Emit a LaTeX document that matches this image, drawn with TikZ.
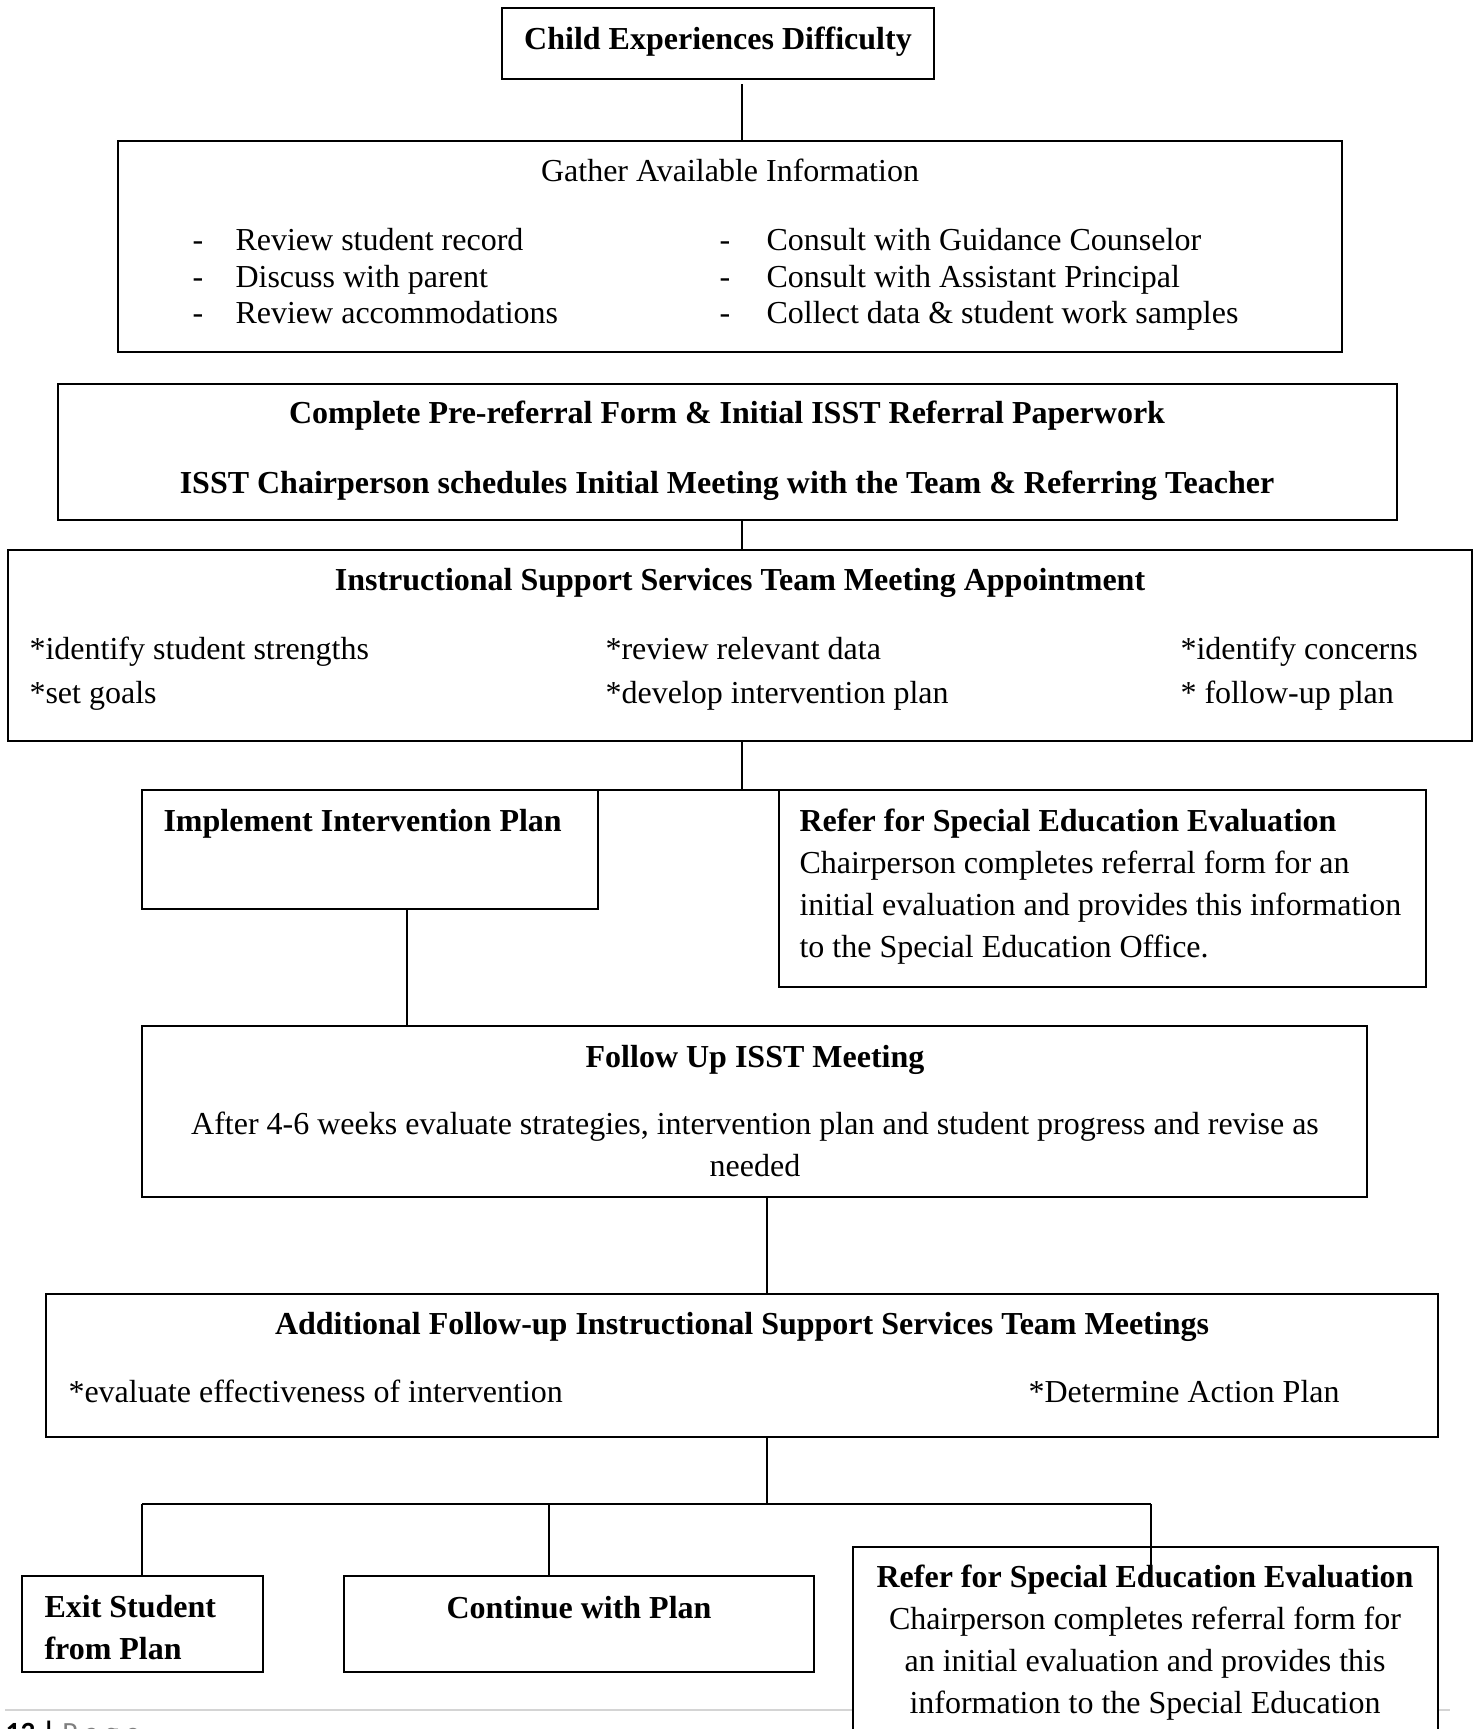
\documentclass[tikz,border=0pt]{standalone}
\usepackage{fontspec}
\setmainfont{Liberation Serif}
\newfontfamily\footfont{Carlito}
\usetikzlibrary{fit, positioning}
\definecolor{boxC}{HTML}{000000}
\definecolor{ruleC}{HTML}{D4D4D4}
\definecolor{pageC}{HTML}{7F7F7F}
\def\lwBox{0.9pt}
\def\lwLink{0.6pt}
\def\lwRule{0.6pt}
\def\rowGap{36.5}
\def\lineGap{42}

\begin{document}
\fontsize{12}{14}\selectfont
\begin{tikzpicture}[x=0.375pt, y=-0.375pt,
  box/.style={draw=boxC, line width=\lwBox, fill=white, inner sep=0pt, outer sep=0pt},
  link/.style={draw=boxC, line width=\lwLink},
  bus/.style={draw=boxC, line width=\lwBox},
  title/.style={font=\bfseries, inner sep=0pt, anchor=base},
  titleW/.style={font=\bfseries, inner sep=0pt, anchor=base west},
  plain/.style={inner sep=0pt, anchor=base},
  item/.style={inner sep=0pt, anchor=base west}]

  \useasboundingbox (0,0) rectangle (1477,1729);

  % Page footer (sits under the last box)
  \draw[ruleC, line width=\lwRule] (5,1710) -- (1450,1710);
  \node[item, font=\footfont\fontsize{11}{13}\selectfont] (pageNo) at (5,1742)
    {\textbf{13 |} \textcolor{pageC}{P a g e}};

  % Child experiences difficulty
  \node[box, fit={(502,8) (934,79)}] (child) {};
  \node[title] (childT) at (718,50) {Child Experiences Difficulty};

  % Gather available information
  \node[box, fit={(118,141) (1342,352)}] (gather) {};
  \node[plain] (gatherT) at (730,182) {Gather Available Information};
  \foreach \txt [count=\i] in {Review student record, Discuss with parent, Review accommodations} {
    \node[item] (gDashL\i) at (192, {251+\rowGap*(\i-1)}) {-};
    \node[item] (gItemL\i) at (235, {251+\rowGap*(\i-1)}) {\txt};
  }
  \foreach \txt [count=\i] in {Consult with Guidance Counselor, Consult with Assistant Principal, Collect data \& student work samples} {
    \node[item] (gDashR\i) at (719, {251+\rowGap*(\i-1)}) {-};
    \node[item] (gItemR\i) at (766, {251+\rowGap*(\i-1)}) {\txt};
  }

  % Pre-referral paperwork
  \node[box, fit={(58,384) (1397,520)}] (prereferral) {};
  \node[title] (preT1) at (727,424) {Complete Pre-referral Form \& Initial ISST Referral Paperwork};
  \node[title] (preT2) at (727,493) {ISST Chairperson schedules Initial Meeting with the Team \& Referring Teacher};

  % ISST meeting appointment
  \node[box, fit={(8,550) (1472,741)}] (isst) {};
  \node[title] (isstT) at (740,590) {Instructional Support Services Team Meeting Appointment};
  \node[item] (isst11) at (29,659) {*identify student strengths};
  \node[item] (isst12) at (29,703) {*set goals};
  \node[item] (isst21) at (605,659) {*review relevant data};
  \node[item] (isst22) at (605,703) {*develop intervention plan};
  \node[item] (isst31) at (1180,659) {*identify concerns};
  \node[item] (isst32) at (1180,703) {* follow-up plan};

  % Implement plan / refer
  \node[box, fit={(142,790) (598,909)}] (implement) {};
  \node[titleW] (implementT) at (163,831) {Implement Intervention Plan};
  \node[box, fit={(779,790) (1426,987)}] (referA) {};
  \node[titleW] (referAT) at (799,831) {Refer for Special Education Evaluation};
  \foreach \txt [count=\i] in {Chairperson completes referral form for an,
      initial evaluation and provides this information,
      to the Special Education Office.} {
    \node[item] (referA\i) at (799, {831+\lineGap*\i}) {\txt};
  }

  % Follow up meeting
  \node[box, fit={(142,1026) (1367,1197)}] (followup) {};
  \node[title] (followupT) at (755,1067) {Follow Up ISST Meeting};
  \node[plain] (followup1) at (755,1134) {After 4-6 weeks evaluate strategies, intervention plan and student progress and revise as};
  \node[plain] (followup2) at (755,1176) {needed};

  % Additional meetings
  \node[box, fit={(46,1294) (1438,1437)}] (additional) {};
  \node[title] (additionalT) at (742,1334) {Additional Follow-up Instructional Support Services Team Meetings};
  \node[item] (additional1) at (68,1402) {*evaluate effectiveness of intervention};
  \node[item] (additional2) at (1028,1402) {*Determine Action Plan};

  % Outcomes
  \node[box, fit={(22,1576) (263,1672)}] (exit) {};
  \node[titleW] (exitT1) at (44,1617) {Exit Student};
  \node[titleW] (exitT2) at (44,1659) {from Plan};
  \node[box, fit={(344,1576) (814,1672)}] (cont) {};
  \node[title] (contT) at (579,1618) {Continue with Plan};
  \node[box, fit={(853,1547) (1438,1790)}] (referB) {};
  \node[title] (referBT) at (1145,1587) {Refer for Special Education Evaluation};
  \foreach \txt [count=\i] in {Chairperson completes referral form for,
      an initial evaluation and provides this,
      information to the Special Education} {
    \node[plain] (referB\i) at (1145, {1587+\lineGap*\i}) {\txt};
  }

  % Connectors
  \coordinate (spineA) at (742,0);
  \coordinate (spineB) at (767,0);
  \coordinate (dropA) at (407,0);
  \coordinate (busMid) at (767,1504);
  \coordinate (busL) at (142,1504);
  \coordinate (busC) at (549,1504);
  \coordinate (busR) at (1151,1504);
  \coordinate (stubEnd) at (1151,1585);

  \draw[link, shorten <=2pt] (spineA |- child.south) -- (spineA |- gather.north);
  \draw[link] (spineA |- prereferral.south) -- (spineA |- isst.north);
  \draw[link] (spineA |- isst.south) -- (spineA |- implement.north);
  \draw[bus] (implement.north east) -- (referA.north west);
  \draw[link] (dropA |- implement.south) -- (dropA |- followup.north);
  \draw[link] (spineB |- followup.south) -- (spineB |- additional.north);
  \draw[link] (spineB |- additional.south) -- (busMid);
  \draw[bus] (busL) -- (busR);
  \draw[link] (busL) -- (busL |- exit.north);
  \draw[link] (busC) -- (busC |- cont.north);
  \draw[link] (busR) -- (stubEnd);
\end{tikzpicture}
\end{document}
